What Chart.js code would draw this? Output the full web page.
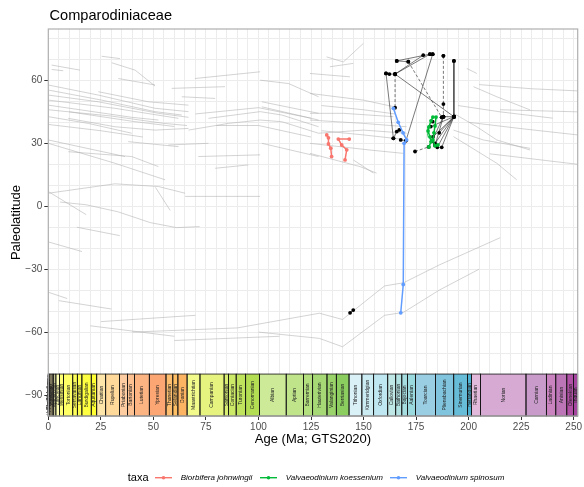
<!DOCTYPE html>
<html><head><meta charset="utf-8">
<script src="https://cdn.jsdelivr.net/npm/chart.js@4/dist/chart.umd.min.js"></script>
<style>html,body{margin:0;padding:0;background:#fff}canvas{display:block}</style>
</head><body>
<canvas id="c" width="584" height="487"></canvas>
<script>
// ---------- text ----------
const chartTitle = 'Comparodiniaceae';
const xTitle = 'Age (Ma; GTS2020)';
const yTitle = 'Paleolatitude';
const legendTitle = 'taxa';
const taxaNames = ['Biorbifera johnwingii', 'Valvaeodinium koessenium', 'Valvaeodinium spinosum'];
const taxaColors = ['#F8766D', '#00BA38', '#619CFF'];

// ---------- axes ----------
const xLabelTicks = [0, 25, 50, 75, 100, 125, 150, 175, 200, 225, 250];
const yLabelTicks = [-90, -60, -30, 0, 30, 60];
const xGridStep = 5, yGridStep = 10;
const xMin = 0, xMax = 251.902, yMin = -100, yMax = 84.5;
const scaleTop = -80, scaleBottom = -100;

// ---------- geological timescale (GTS2020) ----------
const stageNames = ['Meghalayan','Northgrippian','Greenlandian','Upper Pleistocene','Chibanian','Calabrian','Gelasian','Piacenzian','Zanclean','Messinian','Tortonian','Serravallian','Langhian','Burdigalian','Aquitanian','Chattian','Rupelian','Priabonian','Bartonian','Lutetian','Ypresian','Thanetian','Selandian','Danian','Maastrichtian','Campanian','Santonian','Coniacian','Turonian','Cenomanian','Albian','Aptian','Barremian','Hauterivian','Valanginian','Berriasian','Tithonian','Kimmeridgian','Oxfordian','Callovian','Bathonian','Bajocian','Aalenian','Toarcian','Pliensbachian','Sinemurian','Hettangian','Rhaetian','Norian','Carnian','Ladinian','Anisian','Olenekian','Induan'];
const stageTop = [0,0.0042,0.0082,0.0117,0.129,0.774,1.8,2.58,3.6,5.333,7.246,11.63,13.82,15.98,20.44,23.03,27.3,33.9,37.71,41.03,48.07,56.0,59.24,61.66,66.04,72.17,83.65,85.7,89.39,93.9,100.5,113.2,121.4,125.77,132.6,137.05,143.1,149.2,154.8,161.5,165.3,168.2,170.9,174.7,184.2,192.9,199.5,201.4,205.7,227.3,237.0,241.464,246.7,249.9];
const stageBase = [0.0042,0.0082,0.0117,0.129,0.774,1.8,2.58,3.6,5.333,7.246,11.63,13.82,15.98,20.44,23.03,27.3,33.9,37.71,41.03,48.07,56.0,59.24,61.66,66.04,72.17,83.65,85.7,89.39,93.9,100.5,113.2,121.4,125.77,132.6,137.05,143.1,149.2,154.8,161.5,165.3,168.2,170.9,174.7,184.2,192.9,199.5,201.4,205.7,227.3,237.0,241.464,246.7,249.9,251.902];
const stageColors = ['#FDEDEC','#FDECE4','#FEECDB','#FFF2D3','#FFF2C7','#FFF2BA','#FFEDB3','#FFFFBF','#FFFFB3','#FFFF73','#FFFF66','#FFFF59','#FFFF4D','#FFFF41','#FFFF33','#FEE6AA','#FED99A','#FDCDA1','#FDC091','#FCB482','#FCA773','#FDBF6F','#FEBF65','#FDB462','#F2FA8C','#E6F47F','#D9EF74','#CCE968','#BFE35D','#B3DE53','#CCEA97','#BFE48A','#B3DF7F','#A6D975','#99D36A','#8CCD60','#D9F1F7','#CCECF4','#BFE7F1','#BFE7E5','#B3E2E3','#A6DDE0','#9AD9DD','#99CEE3','#80C5DD','#67BCD8','#4EB3D3','#E3B9DB','#D6AAD3','#C99BCB','#C983BF','#BC75B7','#B051A5','#A4469F'];

// ---------- taxa paleolatitude paths [age Ma, paleolatitude] ----------
const johnwingiiPaths = [
  [[132.5,34.0],[133.3,32.6],[133.3,29.7],[134.4,27.7],[134.8,23.7]],
  [[143.2,32.0],[138.0,32.0],[139.6,29.2],[142.0,26.9],[141.2,22.1]]
];
const koesseniumPaths = [
  [[183.0,42.5],[182.1,40.7],[181.1,37.8],[180.7,35.9],[181.6,33.1],[182.1,30.7],[181.1,28.3]],
  [[184.5,42.5],[184.0,38.3],[183.5,35.0],[183.0,31.6],[184.0,28.8],[185.4,29.2]]
];
const spinosumPaths = [
  [[164.2,46.7],[166.5,40.0],[168.8,35.0],[170.5,31.6],[169.3,30.0],[168.9,-37.3],[167.7,-50.8]]
];

// ---------- black reconstruction links ----------
const blackSolidPaths = [
  [[160.7,63.3],[164.2,32.4]],
  [[160.7,63.3],[162.3,63.0],[165.0,63.0]],
  [[165.0,63.0],[178.4,72.0]],
  [[165.0,63.0],[181.6,72.5]],
  [[165.8,69.3],[171.3,68.9]],
  [[165.8,69.3],[181.6,72.5]],
  [[182.9,72.5],[170.2,31.3]],
  [[165.0,63.0],[193.0,42.7]],
  [[193.0,69.3],[193.0,42.7]],
  [[193.0,42.7],[182.0,38.0]],
  [[193.0,42.7],[183.0,33.0]],
  [[193.0,42.7],[184.0,30.0]],
  [[193.0,42.7],[185.1,28.1]],
  [[193.0,42.7],[187.2,28.1]],
  [[193.0,42.7],[186.0,35.0]],
  [[188.0,42.7],[193.0,42.7]],
  [[187.2,42.4],[188.0,42.7]],
  [[188.0,42.7],[184.0,29.0]],
  [[188.0,42.7],[182.5,31.0]],
  [[164.2,32.4],[165.8,35.6],[167.0,36.4]],
  [[167.7,31.6],[170.2,31.3]],
  [[143.6,-50.8],[145.1,-49.5]]
];
const blackDashedPaths = [
  [[165.0,63.0],[165.0,47.0]],
  [[188.0,71.7],[188.0,48.7],[188.0,42.7]],
  [[171.3,68.9],[187.2,42.4]],
  [[174.5,26.1],[181.0,28.3]]
];
const blackPoints = [[182.9,72.5],[188.0,71.7],[193.0,69.3],[182.9,40.3]];

// ---------- background plate paleolatitude paths ----------
const greyPaths = [
  [[25.4,71.5],[34.1,70.4]],
  [[30.2,68.4],[41.3,64.9],[50.8,57.3]],
  [[33.3,60.9],[50.8,57.8]],
  [[1.6,67.3],[15.1,64.9]],
  [[1.6,65.2],[7.1,64.6]],
  [[0,57.8],[23.8,53.0],[50.8,46.7],[66.7,45.1]],
  [[0,55.4],[25.4,50.6],[50.8,45.1],[63.5,43.5]],
  [[0,53.0],[23.8,49.8],[52.4,44.3],[66.7,42.4]],
  [[0,50.6],[31.7,46.7],[61.9,41.9]],
  [[0,48.2],[39.7,42.4],[52.4,41.1]],
  [[0,46.0],[30.0,43.0],[55.0,39.5],[66.0,38.5]],
  [[10.0,45.0],[40.0,40.5],[60.0,38.0]],
  [[0,42.7],[19.0,39.5],[39.7,34.8]],
  [[0,39.0],[25.0,36.0],[45.0,33.0]],
  [[9.5,41.9],[31.7,37.9],[50.8,36.3],[66.7,37.1]],
  [[23.8,54.6],[47.6,49.8],[66.7,48.2]],
  [[58.7,56.2],[84.1,57.0]],
  [[69.8,60.9],[100.8,64.1]],
  [[100.8,60.1],[114.3,58.5],[128.6,52.2]],
  [[63.5,52.2],[79.4,51.4]],
  [[66.7,36.3],[85.7,39.5],[100.8,41.1],[111.1,40.3],[128.6,34.8],[150.0,36.3],[170.5,34.8]],
  [[76.2,41.9],[100.8,45.1],[111.1,43.5],[128.6,37.9]],
  [[70.0,44.0],[100.0,47.0],[125.0,42.0]],
  [[80.0,38.5],[100.0,38.5],[125.0,33.0]],
  [[101.6,49.8],[128.6,44.3]],
  [[101.6,47.4],[128.6,41.1]],
  [[0,31.6],[36.5,23.7]],
  [[0,30.0],[31.7,20.5],[55.6,12.6]],
  [[9.5,26.0],[39.7,23.7],[52.4,18.9]],
  [[0,6.2],[31.7,10.7],[52.4,9.4],[65.1,6.2]],
  [[65.1,4.7],[100.8,4.7]],
  [[71.4,23.7],[100.8,24.5]],
  [[79.4,18.1],[95.2,19.7]],
  [[101.6,30.0],[128.6,23.7]],
  [[57.1,29.2],[76.2,30.0]],
  [[38.0,30.8],[62.0,28.4]],
  [[132.4,71.2],[140.4,68.8],[149.9,77.6]],
  [[134.0,66.5],[145.1,68.1]],
  [[124.5,53.8],[149.9,50.6],[164.2,47.5]],
  [[130.0,48.0],[150.0,46.0],[165.0,44.0]],
  [[124.5,41.1],[149.9,39.5],[170.5,37.9]],
  [[124.5,44.3],[140.4,44.3],[164.2,42.7]],
  [[130.0,36.0],[150.0,34.0],[168.0,32.0]],
  [[145.1,22.1],[154.7,15.8]],
  [[202.3,57.0],[213.4,52.2],[229.3,45.9]],
  [[199.1,65.7],[203.9,63.3]],
  [[192.8,36.3],[207.0,31.6],[229.3,27.6]],
  [[192.8,33.2],[213.4,20.5],[222.9,12.6]],
  [[192.8,44.3],[203.9,37.9],[213.4,31.6],[229.3,26.8]],
  [[195.0,48.0],[215.0,45.0],[240.0,42.0]],
  [[124.5,63.3],[143.5,61.7]],
  [[124.5,30.0],[153.0,26.8],[169.0,25.2]],
  [[124.5,25.2],[148.3,18.9],[156.2,15.8]],
  [[205.0,58.0],[230.0,56.0],[251.9,55.0]],
  [[215.0,46.0],[251.9,45.0]],
  [[200.0,40.0],[225.0,37.0],[251.9,34.0]],
  [[210.0,25.0],[251.9,20.0]],
  [[5.6,2.0],[18.0,0.7],[33.0,-2.6],[48.5,-7.8],[61.0,-10.2],[72.0,-9.7]],
  [[0,7.0],[18.0,-4.0]],
  [[13.6,-10.0],[34.0,-14.0]],
  [[0,-17.0],[16.0,-21.6]],
  [[51.0,9.0],[58.0,-2.0]],
  [[0,-41.0],[9.0,-44.0]],
  [[5.0,-45.0],[30.0,-49.0]],
  [[25.0,-55.0],[70.0,-52.0]],
  [[20.0,-57.0],[60.0,-62.0]],
  [[60.0,-64.0],[110.0,-62.0]],
  [[40.0,-60.0],[90.0,-58.0],[129.0,-51.0],[140.0,-54.0],[160.0,-38.0],[169.0,-36.5],[186.0,-28.0],[215.0,-15.0]],
  [[100.0,-60.0],[129.0,-63.0],[140.0,-67.0],[160.0,-52.0],[169.0,-50.6],[186.0,-40.0],[205.0,-30.0]]
];

// ---------- build datasets ----------
const FONT = '"Liberation Sans", Arial, Helvetica, sans-serif';
Chart.defaults.font.family = FONT;
const toPts = p => p.map(a => ({x: a[0], y: a[1]}));
const datasets = [];
[johnwingiiPaths, koesseniumPaths, spinosumPaths].forEach((paths, i) => {
  paths.forEach(p => datasets.push({
    label: taxaNames[i], data: toPts(p), showLine: true,
    borderColor: taxaColors[i], backgroundColor: taxaColors[i],
    borderWidth: 1.5, pointRadius: 1.9, pointBorderWidth: 0
  }));
});
blackSolidPaths.forEach(p => datasets.push({
  label: 'link', data: toPts(p), showLine: true,
  borderColor: 'rgba(30,30,30,0.85)', backgroundColor: '#000',
  borderWidth: 0.7, pointRadius: 1.9, pointBorderWidth: 0
}));
blackDashedPaths.forEach(p => datasets.push({
  label: 'link', data: toPts(p), showLine: true, borderDash: [3, 2],
  borderColor: 'rgba(30,30,30,0.85)', backgroundColor: '#000',
  borderWidth: 0.7, pointRadius: 1.9, pointBorderWidth: 0
}));
datasets.push({label: 'pts', data: toPts(blackPoints), showLine: false,
  backgroundColor: '#000', pointRadius: 1.9, pointBorderWidth: 0});
greyPaths.forEach(p => datasets.push({
  label: 'plate', data: toPts(p), showLine: true,
  borderColor: 'rgba(175,175,175,0.55)', borderWidth: 1, pointRadius: 0
}));

// ---------- plugins ----------
const timescalePlugin = {
  id: 'timescale',
  beforeDatasetsDraw(chart) {
    const {ctx, scales: {x, y}} = chart;
    const yt = y.getPixelForValue(scaleTop), yb = y.getPixelForValue(scaleBottom);
    ctx.save();
    stageNames.forEach((n, i) => {
      const x0 = x.getPixelForValue(stageTop[i]), x1 = x.getPixelForValue(stageBase[i]);
      ctx.fillStyle = stageColors[i];
      ctx.fillRect(x0, yt, x1 - x0, yb - yt);
    });
    ctx.strokeStyle = '#111'; ctx.lineWidth = 0.8;
    stageNames.forEach((n, i) => {
      const x0 = x.getPixelForValue(stageTop[i]), x1 = x.getPixelForValue(stageBase[i]);
      ctx.strokeRect(x0, yt, x1 - x0, yb - yt);
    });
    ctx.fillStyle = '#222';
    ctx.font = '5px "Liberation Sans", Arial, sans-serif';
    ctx.textAlign = 'center'; ctx.textBaseline = 'middle';
    stageNames.forEach((n, i) => {
      const x0 = x.getPixelForValue(stageTop[i]), x1 = x.getPixelForValue(stageBase[i]);
      ctx.save();
      ctx.translate((x0 + x1) / 2, (yt + yb) / 2);
      ctx.rotate(-Math.PI / 2);
      ctx.fillText(n, 0, 0);
      ctx.restore();
    });
    ctx.restore();
  },
  afterDatasetsDraw(chart) {
    const {ctx, chartArea: a} = chart;
    ctx.save();
    ctx.strokeStyle = '#b0b0b0'; ctx.lineWidth = 1.2;
    ctx.strokeRect(a.left, a.top, a.right - a.left, a.bottom - a.top);
    ctx.restore();
  },
  afterDraw(chart) {
    const {ctx} = chart;
    ctx.save();
    ctx.fillStyle = '#000';
    ctx.font = '14.6px ' + FONT;
    ctx.textAlign = 'left'; ctx.textBaseline = 'alphabetic';
    ctx.fillText(chartTitle, 49.5, 19.5);
    const ly = 477.7;
    ctx.font = '11px ' + FONT;
    ctx.textAlign = 'right'; ctx.textBaseline = 'middle';
    ctx.fillText(legendTitle, 148.5, ly);
    const lineX = [155, 260, 390];
    ctx.font = 'italic 8px ' + FONT;
    ctx.textAlign = 'left';
    taxaNames.forEach((n, i) => {
      const x0 = lineX[i];
      ctx.strokeStyle = taxaColors[i]; ctx.lineWidth = 1.4;
      ctx.beginPath(); ctx.moveTo(x0, ly); ctx.lineTo(x0 + 17, ly); ctx.stroke();
      ctx.fillStyle = taxaColors[i];
      ctx.beginPath(); ctx.arc(x0 + 8.5, ly, 1.8, 0, Math.PI * 2); ctx.fill();
      ctx.fillStyle = '#000';
      ctx.fillText(n, x0 + 25.7, ly);
    });
    ctx.restore();
  }
};

const gridColor = '#ececec';
new Chart(document.getElementById('c'), {
  type: 'scatter',
  data: {datasets},
  options: {
    responsive: false, animation: false, devicePixelRatio: 1, events: [],
    layout: {padding: {left: 0, right: 6.3, top: 29, bottom: 39.5}},
    plugins: {legend: {display: false}, tooltip: {enabled: false}, title: {display: false}},
    scales: {
      x: {
        type: 'linear', min: xMin, max: xMax,
        afterBuildTicks: ax => { const t = []; for (let v = 0; v <= 250; v += xGridStep) t.push({value: v}); ax.ticks = t; },
        afterFit: s => { s.height = 31.5; },
        ticks: {
          autoSkip: false, maxRotation: 0, padding: 1.5, color: '#4d4d4d', font: {size: 10},
          callback: v => xLabelTicks.includes(v) ? String(v) : ''
        },
        grid: {
          color: gridColor, lineWidth: 1, tickLength: 4, drawTicks: true,
          tickColor: c => (c.tick && xLabelTicks.includes(c.tick.value)) ? '#333' : 'rgba(0,0,0,0)',
          tickWidth: 1
        },
        border: {display: false},
        title: {display: true, text: xTitle, color: '#000', font: {size: 13}, padding: {top: 0, bottom: 0}}
      },
      y: {
        type: 'linear', min: yMin, max: yMax,
        afterBuildTicks: ax => { const t = []; for (let v = -100; v <= 80; v += yGridStep) t.push({value: v}); ax.ticks = t; },
        afterFit: s => { s.width = 48.3; },
        ticks: {
          autoSkip: false, padding: 2, color: '#4d4d4d', font: {size: 10},
          callback: v => yLabelTicks.includes(v) ? String(v).replace('-', '\u2212') : ''
        },
        grid: {
          color: gridColor, lineWidth: 1, tickLength: 4, drawTicks: true,
          tickColor: c => (c.tick && yLabelTicks.includes(c.tick.value)) ? '#333' : 'rgba(0,0,0,0)',
          tickWidth: 1
        },
        border: {display: false},
        title: {display: true, text: yTitle, color: '#000', font: {size: 13}, padding: {top: 9, bottom: 0}}
      }
    }
  },
  plugins: [timescalePlugin]
});
</script>
</body></html>
